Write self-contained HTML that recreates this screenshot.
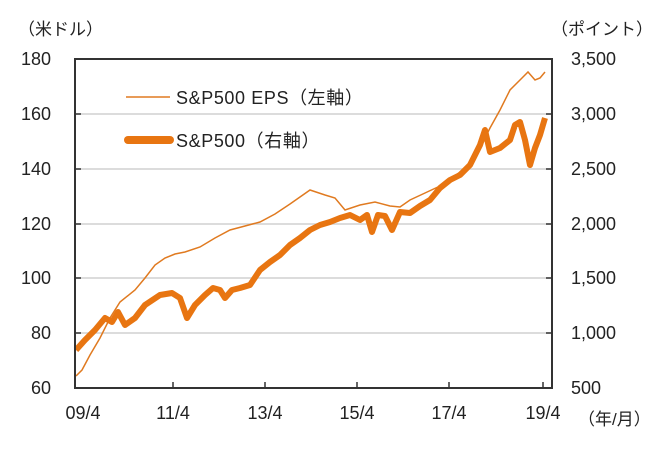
<!DOCTYPE html>
<html><head><meta charset="utf-8"><style>
html,body{margin:0;padding:0;background:#fff;}
svg text{font-family:"Liberation Sans","Noto Sans CJK JP",sans-serif;fill:#222;}
</style></head><body>
<svg width="666" height="450" xmlns="http://www.w3.org/2000/svg">
<g stroke="#d0d0d0" stroke-width="1.5">
<line x1="75" y1="114" x2="552" y2="114"/>
<line x1="75" y1="169" x2="552" y2="169"/>
<line x1="75" y1="224" x2="552" y2="224"/>
<line x1="75" y1="278" x2="552" y2="278"/>
<line x1="75" y1="333" x2="552" y2="333"/>
</g>
<polyline fill="none" stroke="#e07a20" stroke-width="1.5" points="76,376 82,370 90,355 100,338 110,318 120,302 135,290 145,278 155,265 165,258 175,254 185,252 200,247 215,238 230,230 245,226 260,222 275,214 290,204 310,190 325,195 335,198 345,210 360,205 375,202 390,206 400,207 410,200 425,193 440,186 450,180 460,172 470,165 480,148 490,128 500,110 510,90 520,80 528,72 535,80 540,78 545,72"/>
<polyline fill="none" stroke="#e87511" stroke-width="6" stroke-linejoin="round" points="76,350 85,340 95,330 105,318 112,322 118,312 125,325 135,318 145,305 160,295 172,293 180,298 187,318 195,305 205,295 213,288 220,290 225,298 232,290 240,288 250,285 260,270 270,262 280,255 290,245 300,238 310,230 320,225 330,222 340,218 350,215 360,220 367,215 372,232 378,215 385,216 392,230 400,212 410,213 420,206 430,200 440,188 450,180 460,175 470,165 480,145 485,130 490,152 500,148 510,140 515,125 520,122 525,140 530,165 535,148 540,135 545,118"/>
<rect x="75" y="59" width="477" height="329" fill="none" stroke="#333" stroke-width="2"/>
<g stroke="#333" stroke-width="1.5">
<line x1="75" y1="114" x2="81" y2="114"/><line x1="75" y1="169" x2="81" y2="169"/><line x1="75" y1="224" x2="81" y2="224"/><line x1="75" y1="278" x2="81" y2="278"/><line x1="75" y1="333" x2="81" y2="333"/>
<line x1="546" y1="114" x2="552" y2="114"/><line x1="546" y1="169" x2="552" y2="169"/><line x1="546" y1="224" x2="552" y2="224"/><line x1="546" y1="278" x2="552" y2="278"/><line x1="546" y1="333" x2="552" y2="333"/>
<line x1="173" y1="382" x2="173" y2="388"/><line x1="265" y1="382" x2="265" y2="388"/><line x1="357" y1="382" x2="357" y2="388"/><line x1="449" y1="382" x2="449" y2="388"/><line x1="543" y1="382" x2="543" y2="388"/>
</g>
<line x1="126" y1="97" x2="170" y2="97" stroke="#e07a20" stroke-width="1.5"/>
<line x1="128" y1="140" x2="170" y2="140" stroke="#e87511" stroke-width="8" stroke-linecap="round"/>
<g font-size="18">
<text x="176" y="104" letter-spacing="0.6">S&amp;P500 EPS（左軸）</text>
<text x="176" y="147" letter-spacing="0.6">S&amp;P500（右軸）</text>
<text x="18" y="35" font-size="17">（米ドル）</text>
<text x="551" y="35" font-size="17">（ポイント）</text>
<g text-anchor="end">
<text x="51" y="65">180</text><text x="51" y="120">160</text><text x="51" y="175">140</text><text x="51" y="230">120</text><text x="51" y="284">100</text><text x="51" y="339">80</text><text x="51" y="394">60</text>
</g>
<g text-anchor="start">
<text x="571" y="65">3,500</text><text x="571" y="120">3,000</text><text x="571" y="175">2,500</text><text x="571" y="230">2,000</text><text x="571" y="284">1,500</text><text x="571" y="339">1,000</text><text x="571" y="394">500</text>
</g>
<g text-anchor="middle">
<text x="83" y="419">09/4</text><text x="173" y="419">11/4</text><text x="265" y="419">13/4</text><text x="357" y="419">15/4</text><text x="449" y="419">17/4</text><text x="543" y="419">19/4</text>
</g>
<text x="578" y="425" font-size="17">（年/月）</text>
</g>
</svg>
</body></html>
